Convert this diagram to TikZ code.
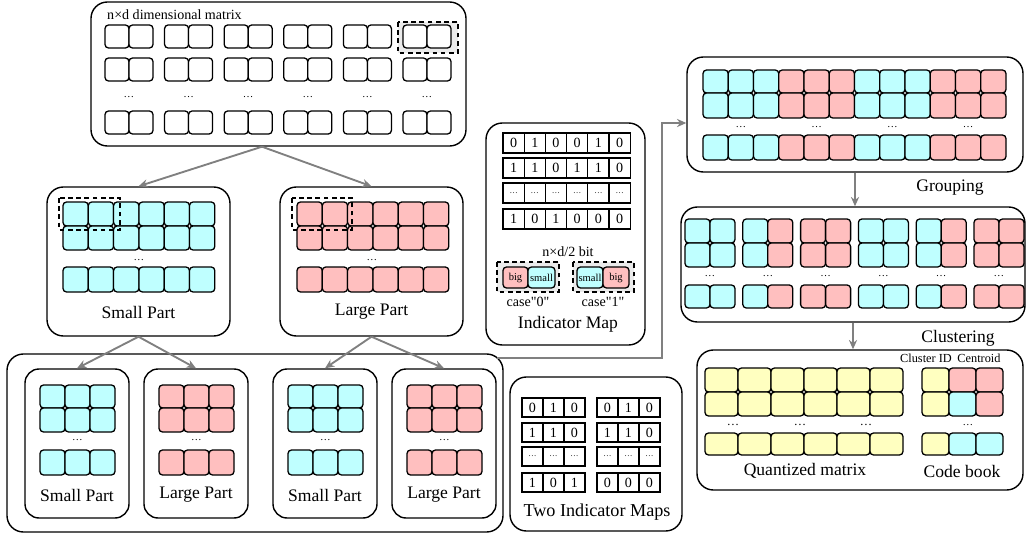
\documentclass[tikz,border=0pt]{standalone}
\usepackage{fontspec}
\setmainfont{Liberation Serif}
\usetikzlibrary{fit,arrows.meta}

\definecolor{cyanc}{HTML}{BFFFFF}
\definecolor{redc}{HTML}{FFBFBF}
\definecolor{yelc}{HTML}{FFFFC0}
\definecolor{arrowgray}{HTML}{808080}
\definecolor{dashfill}{HTML}{EBEBEB}

\tikzset{
	panel/.style={draw, line width=1.2pt, rounded corners=14pt, inner sep=0pt},
	cell/.style={draw, line width=1.1pt, rounded corners=3pt},
	bitcell/.style={draw, line width=1.1pt, fill=white},
	bittext/.style={font=\fontsize{12}{14}\selectfont, inner sep=0pt},
	dashbox/.style={draw, line width=1.2pt, dash pattern=on 4pt off 3pt},
	flow/.style={draw=arrowgray, line width=1.6pt, -{Stealth[length=8pt,width=7pt]}},
	lbl/.style={font=\fontsize{15}{18}\selectfont, inner sep=0pt},
	note/.style={font=\fontsize{12}{14}\selectfont, inner sep=0pt},
	tiny/.style={font=\fontsize{10.5}{12}\selectfont, inner sep=0pt},
	dots/.style={font=\fontsize{9}{10}\selectfont, inner sep=0pt},
}

% small dots inside a bit cell
\newcommand{\bdots}{{\fontsize{7}{8}\selectfont\ldots}}
% a row of rounded cells: x0, y0, width, height, colours
\newcommand{\cellrow}[5]{%
	\foreach \c [count=\k from 0] in {#5}
		\draw[cell, fill=\c] ({#1+\k*#3},#2) rectangle ++(#3,#4);
}
% a row of bit cells: x0, y0, width, height, name, values
\newcommand{\bitrow}[6]{%
	\foreach \v [count=\k from 0] in {#6} {
		\draw[bitcell] ({#1+\k*#3},#2) rectangle ++(#3,#4);
		\node[bittext] (#5-\k) at ({#1+(\k+0.5)*#3},{#2+#4/2}) {\v};
	}
}

\begin{document}
\begin{tikzpicture}[x=0.03cm, y=-0.03cm]
	\useasboundingbox (0,0) rectangle (1026,535);
	
	% n x d matrix
	\node[panel, fit={(91,2) (466,146)}] (ndmat) {};
	\node[note, anchor=west] (ndlbl) at (107,15) {n×d dimensional matrix};
	\draw[dashbox, fill=dashfill] (398,22) rectangle (458,53);
	\foreach \i in {0,...,5} {
		\foreach \y in {25,58,111}
			\cellrow{105+59.6*\i}{\y}{24}{23}{white,white};
		\node[dots] (nd-dots-\i) at (129+59.6*\i,97) {\dots};
	}
	
	% small / large part
	\node[panel, fit={(47,187) (230,336)}] (smallpart) {};
	\node[panel, fit={(280,187) (463,336)}] (largepart) {};
	\foreach \y/\h in {202/24,226/24,267/25} {
		\cellrow{63}{\y}{25.3}{\h}{cyanc,cyanc,cyanc,cyanc,cyanc,cyanc};
		\cellrow{297}{\y}{25.3}{\h}{redc,redc,redc,redc,redc,redc};
	}
	\draw[dashbox] (59,198) rectangle (120,230);
	\draw[dashbox] (292,198) rectangle (352,230);
	\node[dots] (sp-dots) at (139,260) {\dots};
	\node[dots] (lp-dots) at (372,260) {\dots};
	\node[lbl] (splbl) at (138.5,312) {Small Part};
	\node[lbl] (lplbl) at (371.5,312) {Large Part};
	
	% indicator map
	\node[panel, fit={(486,123) (645,345)}] (indmap) {};
	\bitrow{503}{133}{21.2}{20}{im1}{0,1,0,0,1,0}
	\bitrow{503}{158}{21.2}{20}{im2}{1,1,0,1,1,0}
	\bitrow{503}{183}{21.2}{20}{im3}{\bdots,\bdots,\bdots,\bdots,\bdots,\bdots}
	\bitrow{503}{209}{21.2}{20}{im4}{1,0,1,0,0,0}
	\node[note] (bitlbl) at (568,252) {n×d/2 bit};
	\draw[dashbox, fill=dashfill] (497,262) rectangle (559,292);
	\draw[dashbox, fill=dashfill] (573,262) rectangle (634,292);
	\draw[cell, fill=redc] (503,267) rectangle (528,288);
	\draw[cell, fill=cyanc] (528,267) rectangle (555,288);
	\draw[cell, fill=cyanc] (577,267) rectangle (603,288);
	\draw[cell, fill=redc] (603,267) rectangle (629,288);
	\node[dots] (c0big) at (515.5,277.5) {big};
	\node[dots] (c0small) at (541.5,277.5) {small};
	\node[dots] (c1small) at (590,277.5) {small};
	\node[dots] (c1big) at (616,277.5) {big};
	\node[note] (case0) at (528,302) {case\textquotedbl 0\textquotedbl};
	\node[note] (case1) at (603,302) {case\textquotedbl 1\textquotedbl};
	\node[lbl] (imlbl) at (568,324) {Indicator Map};
	
	% second split
	\node[panel, fit={(7,354) (503,532)}] (split) {};
	\foreach \bx/\col/\txt [count=\n] in {25/cyanc/Small Part, 144/redc/Large Part, 273/cyanc/Small Part, 392/redc/Large Part} {
		\node[panel, rounded corners=12pt, fit={(\bx,369) ({\bx+104},518)}] (sub\n) {};
		\foreach \y/\h in {385/23,408/24,450/25}
			\cellrow{\bx+15}{\y}{25}{\h}{\col,\col,\col};
		\node[dots] (sub-dots-\n) at (\bx+52.5,440) {\dots};
		\node[lbl] (sublbl\n) at (\bx+52,495) {\txt};
	}
	
	% two indicator maps
	\node[panel, fit={(510,377) (682,531)}] (twomap) {};
	\bitrow{522}{398}{21}{19}{ta1}{0,1,0}
	\bitrow{522}{423}{21}{19}{ta2}{1,1,0}
	\bitrow{522}{447}{21}{19}{ta3}{\bdots,\bdots,\bdots}
	\bitrow{522}{473}{21}{19}{ta4}{1,0,1}
	\bitrow{597}{398}{21}{19}{tb1}{0,1,0}
	\bitrow{597}{423}{21}{19}{tb2}{1,1,0}
	\bitrow{597}{447}{21}{19}{tb3}{\bdots,\bdots,\bdots}
	\bitrow{597}{473}{21}{19}{tb4}{0,0,0}
	\node[lbl, font=\fontsize{15.5}{18}\selectfont] (twolbl) at (597,512) {Two Indicator Maps};
	
	% grouping
	\node[panel, fit={(687,57) (1023,172)}] (grouping) {};
	\foreach \y/\h in {70/23,93/25,135/25}
		\cellrow{703}{\y}{25.25}{\h}{cyanc,cyanc,cyanc,redc,redc,redc,cyanc,cyanc,cyanc,redc,redc,redc};
	\foreach \k in {0,...,3}
		\node[dots] (g-dots-\k) at (741+75.75*\k,127) {\dots};
	\node[lbl] (glbl) at (950,188) {Grouping};
	
	% clustering
	\node[panel, fit={(681,207) (1025,322)}] (clustering) {};
	\foreach \i/\ca/\cb in {0/cyanc/cyanc, 1/cyanc/redc, 2/redc/redc, 3/cyanc/cyanc, 4/cyanc/redc, 5/redc/redc} {
		\foreach \y/\h in {219/24,243/24,285/23}
			\cellrow{685+57.8*\i}{\y}{25}{\h}{\ca,\cb};
		\node[dots] (c-dots-\i) at (710+57.8*\i,276) {\dots};
	}
	\node[lbl] (clbl) at (958,338) {Clustering};
	
	% quantized matrix and code book
	\node[panel, fit={(697,350) (1023,490)}] (codebook) {};
	\foreach \y/\h in {368/24,392/24,433/22}
		\cellrow{705}{\y}{33}{\h}{yelc,yelc,yelc,yelc,yelc,yelc};
	\cellrow{922}{368}{27}{24}{yelc,redc,redc}
	\cellrow{922}{392}{27}{24}{yelc,cyanc,redc}
	\cellrow{922}{433}{27}{22}{yelc,cyanc,cyanc}
	\foreach \x [count=\k] in {733,800,866}
		\node[tiny] (q-dots-\k) at (\x,425) {\dots};
	\node[dots] (cb-dots) at (968,425) {\dots};
	\node[tiny] (cidlbl) at (926,358) {Cluster ID};
	\node[tiny] (centlbl) at (979,358) {Centroid};
	\node[lbl] (qlbl) at (805,471) {Quantized matrix};
	\node[lbl] (cblbl) at (962,471) {Code book};
	
	% arrows
	\draw[flow] (ndmat.south -| 262,0) -- (smallpart.north);
	\draw[flow] (ndmat.south -| 262,0) -- (largepart.north);
	\draw[flow] (smallpart.south) -- (sub1.north);
	\draw[flow] (smallpart.south) -- (sub2.north);
	\draw[flow] (largepart.south) -- (sub3.north);
	\draw[flow] (largepart.south) -- (sub4.north);
	\coordinate (gstart) at (497,358);
	\draw[flow] (gstart) -- (662,358) |- (grouping.west |- 0,123);
	\draw[flow] (grouping.south) -- (grouping.south |- clustering.north);
	\draw[flow] (clustering.south) -- (clustering.south |- codebook.north);
\end{tikzpicture}
\end{document}
